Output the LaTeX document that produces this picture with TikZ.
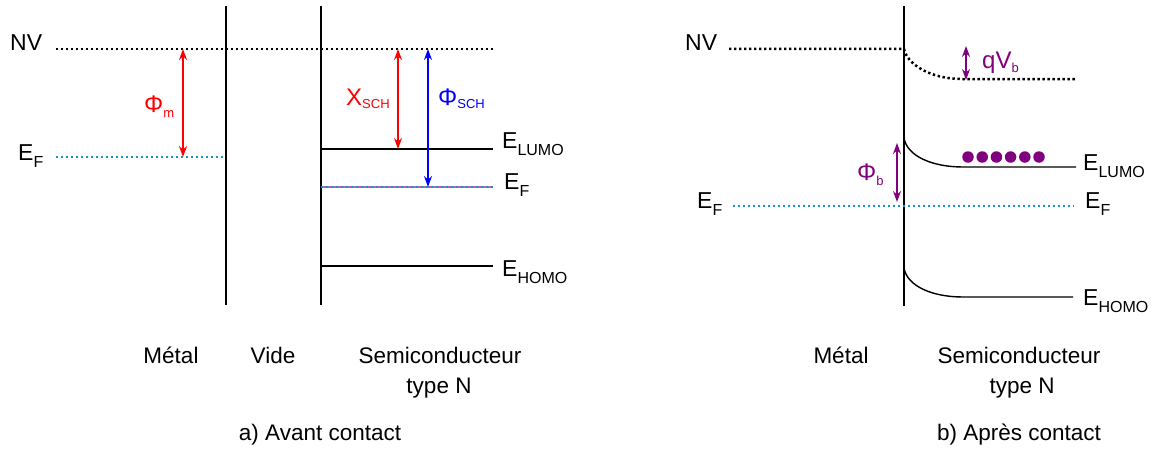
\documentclass[tikz,border=0pt]{standalone}
\usepackage{fontspec}
\setmainfont{Liberation Sans}
\usetikzlibrary{arrows.meta}

\definecolor{efcol}{RGB}{20,150,190}
\definecolor{bandpur}{RGB}{128,0,128}
\newcommand{\esub}[2]{#1\raisebox{-7pt}{\fontsize{16}{16}\selectfont #2}}
\newcommand{\gsub}[3]{{\fontsize{24}{26}\selectfont #1}\raisebox{-#3}{\fontsize{13}{13}\selectfont #2}}

\begin{document}
\begin{tikzpicture}[
  x=1pt, y=-1pt,
  lbl/.style={font=\fontsize{23}{26}\selectfont, inner sep=0pt, anchor=base west},
  legend/.style={font=\fontsize{22.5}{27}\selectfont, inner sep=0pt, anchor=base},
  wall/.style={line width=2pt},
  lev/.style={line width=1.6pt},
  vac/.style={line width=2.5pt, dash pattern=on 2.4pt off 2.6pt},
  fermi/.style={vac, efcol},
  dbl/.style={{Stealth[length=11pt,width=8pt]}-{Stealth[length=11pt,width=8pt]}, line width=1.6pt},
  elec/.style={circle, fill=bandpur, inner sep=0pt, minimum size=11.5pt}]
\useasboundingbox (0,0) rectangle (1161,452);

% a) Avant contact: walls
\coordinate (wmT) at (226,6);   \coordinate (wmB) at (226,305);
\coordinate (wsT) at (321,6);   \coordinate (wsB) at (321,305);
\draw[wall] (wmT) -- (wmB);
\draw[wall] (wsT) -- (wsB);

% levels
\coordinate (nvAl) at (56,49);   \coordinate (nvAr) at (493,49);
\coordinate (efMl) at (56,157);  \coordinate (efMr) at (226,157);
\coordinate (lumoAl) at (321,149); \coordinate (lumoAr) at (493,149);
\coordinate (efSl) at (321,187);   \coordinate (efSr) at (493,187);
\coordinate (homoAl) at (321,266); \coordinate (homoAr) at (493,266);
\draw[vac] (nvAl) -- (nvAr);
\draw[fermi] (efMl) -- (efMr);
\draw[lev] (lumoAl) -- (lumoAr);
\draw[line width=1.2pt, bandpur!60] (efSl) -- (efSr);
\draw[fermi] (efSl) -- (efSr);
\draw[lev] (homoAl) -- (homoAr);

% energy gaps
\coordinate (phmT) at (183,49);  \coordinate (phmB) at (183,157);
\coordinate (chiT) at (398,49);  \coordinate (chiB) at (398,149);
\coordinate (phsT) at (428,49);  \coordinate (phsB) at (428,187);
\draw[dbl, red] (phmT) -- (phmB);
\draw[dbl, red] (chiT) -- (chiB);
\draw[dbl, blue] (phsT) -- (phsB);

% labels
\node[lbl] (nvA)   at (10,51)   {NV};
\node[lbl] (efA)   at (18,160)  {\esub{E}{F}};
\node[lbl, red] (phmL) at (144,112) {\gsub{Φ}{m}{5pt}};
\node[lbl, red] (chiL) at (346,105) {\gsub{Χ}{SCH}{3pt}};
\node[lbl, blue] (phsL) at (438,105) {\gsub{Φ}{SCH}{3pt}};
\node[lbl] (lumoA) at (502,148) {\esub{E}{LUMO}};
\node[lbl] (efB)   at (504,189) {\esub{E}{F}};
\node[lbl] (homoA) at (502,276) {\esub{E}{HOMO}};

\node[legend] (metA) at (171,363) {Métal};
\node[legend] (vide) at (273,363) {Vide};
\node[legend] (scA)  at (440,363) {Semiconducteur};
\node[legend] (tnA)  at (439,393) {type N};
\node[legend] (capA) at (320,440) {a) Avant contact};

% b) Apres contact: interface
\coordinate (jT) at (904,6);  \coordinate (jB) at (904,306);
\draw[wall] (jT) -- (jB);

% bent bands
\coordinate (nvBl) at (729,49);   \coordinate (nvBj) at (904,49);
\coordinate (nvBk) at (962,79);   \coordinate (nvBr) at (1076,79);
\draw[vac] (nvBl) -- (nvBj) .. controls (907,64) and (930,79) .. (nvBk) -- (nvBr);
\coordinate (lumoBj) at (904,138); \coordinate (lumoBk) at (963,167);
\coordinate (lumoBr) at (1076,167);
\draw[line width=1.4pt] (lumoBj) .. controls (907,156) and (932,167) .. (lumoBk) -- (lumoBr);
\coordinate (homoBj) at (904,268); \coordinate (homoBk) at (963,297);
\coordinate (homoBr) at (1073,297);
\draw[line width=1.4pt] (homoBj) .. controls (907,286) and (932,297) .. (homoBk) -- (homoBr);
\coordinate (efCl) at (733,206);  \coordinate (efCr) at (1074,206);
\draw[fermi] (efCl) -- (efCr);

% electrons
\foreach \i in {0,...,5}
  \node[elec] (e\i) at (968+14.2*\i,157) {};

% barrier arrows
\coordinate (qvT) at (966,46);  \coordinate (qvB) at (966,80);
\coordinate (phbT) at (897,143); \coordinate (phbB) at (897,202);
\draw[dbl, bandpur, line width=1.4pt] (qvT) -- (qvB);
\draw[dbl, bandpur] (phbT) -- (phbB);

% labels
\node[lbl] (nvB)   at (685,51)   {NV};
\node[lbl, bandpur] (qvL)  at (982,68)  {\gsub{qV}{b}{4pt}};
\node[lbl, bandpur] (phbL) at (857,180) {\gsub{Φ}{b}{5pt}};
\node[lbl] (lumoB) at (1083,170) {\esub{E}{LUMO}};
\node[lbl] (efC)   at (697,208)  {\esub{E}{F}};
\node[lbl] (efD)   at (1085,208) {\esub{E}{F}};
\node[lbl] (homoB) at (1083,305) {\esub{E}{HOMO}};

\node[legend] (metB) at (841,363)  {Métal};
\node[legend] (scB)  at (1019,363) {Semiconducteur};
\node[legend] (tnB)  at (1022,393) {type N};
\node[legend] (capB) at (1019,440) {b) Après contact};
\end{tikzpicture}
\end{document}
